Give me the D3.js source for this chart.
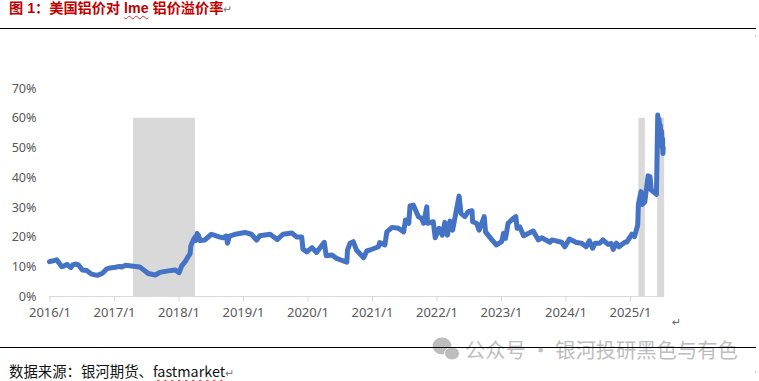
<!DOCTYPE html>
<html lang="zh">
<head>
<meta charset="utf-8">
<script src="https://cdn.jsdelivr.net/npm/d3@7"></script>
<style>
html,body{margin:0;padding:0;background:#fff;overflow:hidden}
#wrap{position:relative;width:759px;height:381px}
svg{position:absolute;left:0;top:0}
.t{position:absolute;white-space:nowrap;font-family:"Noto Sans CJK SC","Noto Sans",sans-serif;line-height:16px}
.w{text-decoration:underline wavy;text-decoration-thickness:1px;text-underline-offset:2px}
.m{color:#808080;font-size:11px;font-weight:400}
</style>
</head>
<body>
<div id="wrap"></div>
<script>
const titlePre = "图 1：美国铝价对 ";
const titleWord = "lme";
const titlePost = " 铝价溢价率";
const sourcePre = "数据来源：银河期货、";
const sourceWord = "fastmarket";
const watermark = "公众号 · 银河投研黑色与有色";
const yTicks = [0,10,20,30,40,50,60,70];
const xTicks = [2016,2017,2018,2019,2020,2021,2022,2023,2024,2025];
const shadeBands = [[2017.295,2018.256],[2025.13,2025.23],[2025.42,2025.53]];
const shadeTop = 60;
const years = [
2016.00,2016.04,2016.11,2016.15,2016.19,2016.22,2016.27,2016.30,2016.33,2016.36,2016.40,2016.45,2016.51,2016.58,2016.65,2016.74,2016.78,2016.82,2016.89,2016.94,
2017.02,2017.09,2017.12,2017.18,2017.33,2017.40,2017.45,2017.53,2017.64,2017.71,2017.84,2017.95,
2018.01,2018.05,2018.10,2018.15,2018.18,2018.19,2018.23,2018.26,2018.27,2018.29,2018.30,2018.31,2018.33,2018.41,2018.51,2018.62,2018.69,2018.74,2018.76,2018.79,2018.90,
2019.03,2019.13,2019.21,2019.26,2019.42,2019.53,2019.62,2019.76,2019.83,2019.91,2019.93,2019.99,
2020.07,2020.14,2020.26,2020.29,2020.38,2020.45,2020.61,2020.62,2020.66,2020.71,2020.76,2020.87,2020.92,2020.97,
2021.10,2021.12,2021.20,2021.23,2021.31,2021.41,2021.49,2021.52,2021.57,2021.59,2021.64,2021.72,2021.77,2021.80,2021.85,2021.86,2021.95,2021.98,
2022.04,2022.09,2022.13,2022.17,2022.21,2022.25,2022.35,2022.38,2022.44,2022.49,2022.55,2022.56,2022.62,2022.66,2022.74,2022.76,2022.86,2022.93,
2023.01,2023.04,2023.07,2023.11,2023.19,2023.23,2023.25,2023.29,2023.35,2023.50,2023.58,2023.63,2023.76,2023.79,2023.94,2023.99,
2024.06,2024.17,2024.25,2024.32,2024.37,2024.42,2024.46,2024.53,2024.58,2024.66,2024.71,2024.74,2024.79,2024.83,2024.92,2024.95,
2025.03,2025.07,2025.12,2025.13,2025.17,2025.19,2025.23,2025.28,2025.31,2025.33,2025.41,2025.43,2025.44,2025.45,2025.46,2025.47,2025.48,2025.49,2025.50,2025.505,2025.51,2025.515
];
const premium = [
11.7,11.9,12.3,11.2,10.0,10.2,10.8,10.2,9.7,10.6,10.9,10.6,8.9,8.7,7.5,7.1,7.4,7.8,9.3,9.6,
9.8,10.1,9.9,10.5,10.1,9.9,9.1,7.7,7.2,8.1,8.6,8.9,
8.0,10.3,11.6,13.4,14.3,16.9,19.0,20.0,18.8,21.2,19.6,20.6,18.8,19.0,20.9,20.1,19.7,20.3,17.9,20.3,21.0,
21.5,20.9,18.9,20.4,20.9,19.1,20.9,21.3,20.0,20.0,15.9,15.0,
16.4,14.8,18.2,13.7,13.9,12.8,11.5,15.6,17.9,18.4,15.6,13.0,15.3,15.6,
16.7,18.1,17.3,21.7,23.2,22.9,21.7,25.7,24.6,30.4,30.7,26.8,26.2,24.6,30.1,24.6,25.1,19.7,
22.9,20.6,24.9,20.6,25.3,22.3,33.7,27.9,26.8,28.5,28.8,25.1,24.6,22.3,26.8,21.7,19.0,17.3,
18.4,21.2,19.5,24.6,26.2,26.8,22.9,23.4,20.4,22.0,19.0,19.7,18.2,19.0,18.2,16.7,
19.3,18.1,17.9,16.7,18.7,16.2,17.9,17.9,19.0,17.5,17.8,15.8,17.9,16.7,18.2,18.3,
20.9,20.1,24.0,30.9,35.2,30.9,31.8,40.5,40.2,35.7,34.3,60.9,58.5,59.5,56.5,57.5,54,55.5,50,53,48,50
];

const W = 759, H = 381;
const wrap = d3.select("#wrap");
const svg = wrap.append("svg").attr("width",W).attr("height",H);
const x = d3.scaleLinear().domain([2016,2025]).range([49.5,630]);
const y = d3.scaleLinear().domain([0,70]).range([296.5,88]);

// rules
svg.append("line").attr("x1",0).attr("x2",756).attr("y1",28.5).attr("y2",28.5).attr("stroke","#000");

// watermark
const wm = svg.append("g").attr("fill","#bdbdbd");
wm.append("ellipse").attr("cx",442).attr("cy",346).attr("rx",9.5).attr("ry",8.5);
wm.append("ellipse").attr("cx",452).attr("cy",353.5).attr("rx",7.5).attr("ry",6.5).attr("stroke","#fff").attr("stroke-width",1);
svg.append("text").attr("x",465).attr("y",358).attr("font-family","'Noto Sans CJK SC'").attr("font-size",20.3).attr("fill","#bdbdbd").text(watermark);
svg.append("line").attr("x1",0).attr("x2",756).attr("y1",347.5).attr("y2",347.5).attr("stroke","#000");

// bands
svg.append("g").selectAll("rect").data(shadeBands).join("rect")
  .attr("x",d=>x(d[0])).attr("width",d=>x(d[1])-x(d[0]))
  .attr("y",y(shadeTop)).attr("height",y(0)-y(shadeTop)).attr("fill","#d9d9d9");

// x axis
const xAxis = svg.append("g").attr("transform",`translate(0,${y(0)})`)
  .call(d3.axisBottom(x).tickValues(xTicks).tickFormat(d=>`${d}/1`).tickSize(5).tickPadding(6));
xAxis.select(".domain").attr("d",`M${x(2016)},0.5V0H664`).attr("stroke","#d9d9d9").attr("stroke-width",1.2);
xAxis.selectAll(".tick line").attr("stroke","#d9d9d9");
xAxis.selectAll("text").attr("fill","#595959").attr("font-size",13).attr("font-family","'Noto Sans'");

// y axis
const yAxis = svg.append("g").attr("transform",`translate(36.5,0)`)
  .call(d3.axisLeft(y).tickValues(yTicks).tickFormat(d=>d+"%").tickSize(0).tickPadding(0));
yAxis.select(".domain").remove();
yAxis.selectAll("text").attr("fill","#595959").attr("font-size",12.6).attr("font-family","'Noto Sans'");

// line
const line = d3.line().x((d,i)=>x(years[i])).y(d=>y(d)).curve(d3.curveLinear);
svg.append("path").datum(premium).attr("d",line).attr("fill","none")
  .attr("stroke","#4472c4").attr("stroke-width",5).attr("stroke-linejoin","round").attr("stroke-linecap","round");

// return mark
svg.append("text").attr("x",672).attr("y",326).attr("fill","#666").attr("font-size",11).attr("font-family","'DejaVu Sans'").text("↵");
svg.append("circle").attr("cx",755.5).attr("cy",372).attr("r",0.5).attr("fill","#777");
svg.append("circle").attr("cx",755.5).attr("cy",36).attr("r",0.5).attr("fill","#777");

// title & source
const title = wrap.append("div").attr("class","t").style("left","9px").style("top","0px")
  .style("font-family","'Liberation Sans','Noto Sans CJK SC',sans-serif")
  .style("font-size","14.2px").style("font-weight","700").style("color","#c00000");
title.append("span").text(titlePre);
title.append("span").attr("class","w").style("text-decoration-color","#e03030").text(titleWord);
title.append("span").text(titlePost);
title.append("span").attr("class","m").text("↵");

const src = wrap.append("div").attr("class","t").style("left","9px").style("top","363px")
  .style("font-size","14.4px").style("color","#111");
src.append("span").text(sourcePre);
src.append("span").attr("class","w").style("text-decoration-color","#e03030").text(sourceWord);
src.append("span").attr("class","m").text("↵");
</script>
</body>
</html>
